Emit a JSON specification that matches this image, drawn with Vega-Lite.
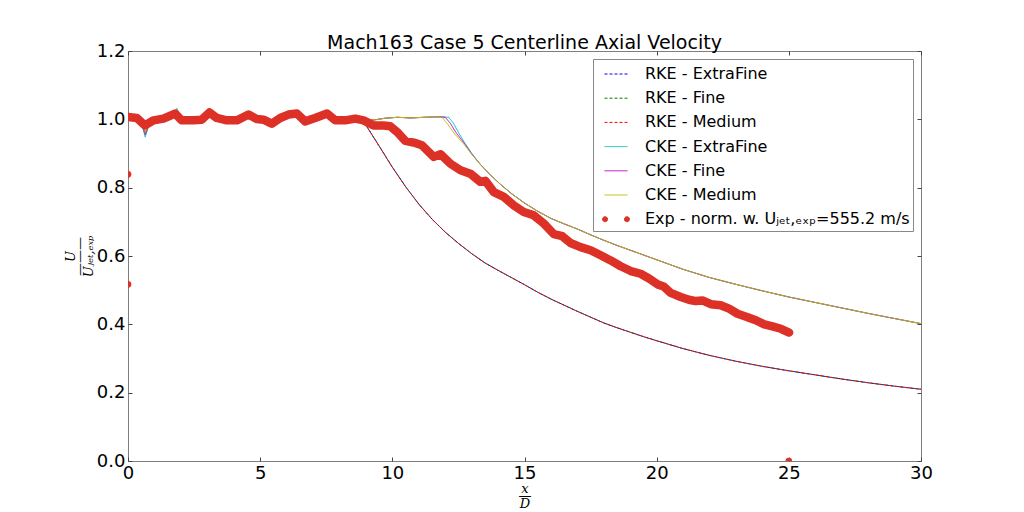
{
"$schema":"https://vega.github.io/schema/vega-lite/v6.json",
"width":793,"height":410,
"autosize":{"type":"none"},
"padding":{"left":128,"top":51,"right":103,"bottom":51},
"title":{"text":"Mach163 Case 5 Centerline Axial Velocity","font":"DejaVu Sans","fontSize":19,"fontWeight":"normal","color":"#000","anchor":"middle","offset":-11},
"config":{
 "font":"DejaVu Sans",
 "view":{"stroke":"#7f7f7f","strokeWidth":1},
 "axis":{"grid":false,"domain":false,"labelFont":"DejaVu Sans","labelFontSize":18,"labelColor":"#000","tickColor":"#444","tickSize":-4,"tickWidth":1,"labelPadding":7,"labelFlush":false,"labelOverlap":false,"titleColor":"#000"},
 "legend":{"orient":"top-right","offset":8,"fillColor":"#fff","strokeColor":"#888","padding":3,"cornerRadius":0,"symbolSize":529,"symbolStrokeWidth":1,"labelFont":"DejaVu Sans","labelFontSize":16,"labelColor":"#000","labelOffset":17,"symbolOffset":8,"rowPadding":4.2,"labelLimit":500}
},
"resolve":{"axis":{"x":"independent","y":"independent"}},
"datasets":{
"rxf":[
{"s":"RKE - ExtraFine","x":0,"y":1.005},{"s":"RKE - ExtraFine","x":0.3,"y":1.005},{"s":"RKE - ExtraFine","x":0.5,"y":0.995},{"s":"RKE - ExtraFine","x":0.65,"y":0.962},{"s":"RKE - ExtraFine","x":0.8,"y":0.985},{"s":"RKE - ExtraFine","x":1.0,"y":0.998},{"s":"RKE - ExtraFine","x":1.4,"y":1.0},{"s":"RKE - ExtraFine","x":1.7,"y":1.01},{"s":"RKE - ExtraFine","x":1.85,"y":1.025},{"s":"RKE - ExtraFine","x":2.0,"y":1.0},{"s":"RKE - ExtraFine","x":2.5,"y":0.997},{"s":"RKE - ExtraFine","x":2.9,"y":1.005},{"s":"RKE - ExtraFine","x":3.1,"y":1.015},{"s":"RKE - ExtraFine","x":3.4,"y":1.003},{"s":"RKE - ExtraFine","x":4.0,"y":0.998},{"s":"RKE - ExtraFine","x":4.5,"y":1.008},{"s":"RKE - ExtraFine","x":5.0,"y":1.0},{"s":"RKE - ExtraFine","x":5.4,"y":0.99},{"s":"RKE - ExtraFine","x":5.9,"y":1.004},{"s":"RKE - ExtraFine","x":6.4,"y":1.007},{"s":"RKE - ExtraFine","x":6.7,"y":0.995},{"s":"RKE - ExtraFine","x":7.0,"y":1.0},{"s":"RKE - ExtraFine","x":7.5,"y":1.008},{"s":"RKE - ExtraFine","x":7.9,"y":0.995},{"s":"RKE - ExtraFine","x":8.3,"y":0.997},{"s":"RKE - ExtraFine","x":8.8,"y":1.003},
{"s":"RKE - ExtraFine","x":9.0,"y":0.983},{"s":"RKE - ExtraFine","x":9.5,"y":0.922},{"s":"RKE - ExtraFine","x":10.0,"y":0.86},{"s":"RKE - ExtraFine","x":10.5,"y":0.803},{"s":"RKE - ExtraFine","x":11.0,"y":0.752},{"s":"RKE - ExtraFine","x":11.5,"y":0.708},{"s":"RKE - ExtraFine","x":12.0,"y":0.67},{"s":"RKE - ExtraFine","x":12.5,"y":0.637},{"s":"RKE - ExtraFine","x":13.0,"y":0.607},{"s":"RKE - ExtraFine","x":13.5,"y":0.58},{"s":"RKE - ExtraFine","x":14.0,"y":0.558},{"s":"RKE - ExtraFine","x":14.5,"y":0.537},{"s":"RKE - ExtraFine","x":15.0,"y":0.516},{"s":"RKE - ExtraFine","x":15.5,"y":0.494},{"s":"RKE - ExtraFine","x":16.0,"y":0.474},{"s":"RKE - ExtraFine","x":16.5,"y":0.456},{"s":"RKE - ExtraFine","x":17.0,"y":0.438},{"s":"RKE - ExtraFine","x":17.5,"y":0.421},{"s":"RKE - ExtraFine","x":18.0,"y":0.404},{"s":"RKE - ExtraFine","x":18.5,"y":0.39},{"s":"RKE - ExtraFine","x":19.0,"y":0.377},{"s":"RKE - ExtraFine","x":19.5,"y":0.364},{"s":"RKE - ExtraFine","x":20.0,"y":0.352},{"s":"RKE - ExtraFine","x":21.0,"y":0.329},{"s":"RKE - ExtraFine","x":22.0,"y":0.309},{"s":"RKE - ExtraFine","x":23.0,"y":0.292},{"s":"RKE - ExtraFine","x":24.0,"y":0.277},{"s":"RKE - ExtraFine","x":25.0,"y":0.264},{"s":"RKE - ExtraFine","x":26.0,"y":0.252},{"s":"RKE - ExtraFine","x":27.0,"y":0.24},{"s":"RKE - ExtraFine","x":28.0,"y":0.229},{"s":"RKE - ExtraFine","x":29.0,"y":0.219},{"s":"RKE - ExtraFine","x":30.0,"y":0.21}
],
"rf":[
{"s":"RKE - Fine","x":0,"y":1.005},{"s":"RKE - Fine","x":0.3,"y":1.005},{"s":"RKE - Fine","x":0.5,"y":0.995},{"s":"RKE - Fine","x":0.65,"y":0.962},{"s":"RKE - Fine","x":0.8,"y":0.985},{"s":"RKE - Fine","x":1.0,"y":0.998},{"s":"RKE - Fine","x":1.4,"y":1.0},{"s":"RKE - Fine","x":1.7,"y":1.01},{"s":"RKE - Fine","x":1.85,"y":1.025},{"s":"RKE - Fine","x":2.0,"y":1.0},{"s":"RKE - Fine","x":2.5,"y":0.997},{"s":"RKE - Fine","x":2.9,"y":1.005},{"s":"RKE - Fine","x":3.1,"y":1.015},{"s":"RKE - Fine","x":3.4,"y":1.003},{"s":"RKE - Fine","x":4.0,"y":0.998},{"s":"RKE - Fine","x":4.5,"y":1.008},{"s":"RKE - Fine","x":5.0,"y":1.0},{"s":"RKE - Fine","x":5.4,"y":0.99},{"s":"RKE - Fine","x":5.9,"y":1.004},{"s":"RKE - Fine","x":6.4,"y":1.007},{"s":"RKE - Fine","x":6.7,"y":0.995},{"s":"RKE - Fine","x":7.0,"y":1.0},{"s":"RKE - Fine","x":7.5,"y":1.008},{"s":"RKE - Fine","x":7.9,"y":0.995},{"s":"RKE - Fine","x":8.3,"y":0.997},{"s":"RKE - Fine","x":8.8,"y":1.003},
{"s":"RKE - Fine","x":9.0,"y":0.983},{"s":"RKE - Fine","x":9.5,"y":0.922},{"s":"RKE - Fine","x":10.0,"y":0.86},{"s":"RKE - Fine","x":10.5,"y":0.803},{"s":"RKE - Fine","x":11.0,"y":0.752},{"s":"RKE - Fine","x":11.5,"y":0.708},{"s":"RKE - Fine","x":12.0,"y":0.67},{"s":"RKE - Fine","x":12.5,"y":0.637},{"s":"RKE - Fine","x":13.0,"y":0.607},{"s":"RKE - Fine","x":13.5,"y":0.58},{"s":"RKE - Fine","x":14.0,"y":0.558},{"s":"RKE - Fine","x":14.5,"y":0.537},{"s":"RKE - Fine","x":15.0,"y":0.516},{"s":"RKE - Fine","x":15.5,"y":0.494},{"s":"RKE - Fine","x":16.0,"y":0.474},{"s":"RKE - Fine","x":16.5,"y":0.456},{"s":"RKE - Fine","x":17.0,"y":0.438},{"s":"RKE - Fine","x":17.5,"y":0.421},{"s":"RKE - Fine","x":18.0,"y":0.404},{"s":"RKE - Fine","x":18.5,"y":0.39},{"s":"RKE - Fine","x":19.0,"y":0.377},{"s":"RKE - Fine","x":19.5,"y":0.364},{"s":"RKE - Fine","x":20.0,"y":0.352},{"s":"RKE - Fine","x":21.0,"y":0.329},{"s":"RKE - Fine","x":22.0,"y":0.309},{"s":"RKE - Fine","x":23.0,"y":0.292},{"s":"RKE - Fine","x":24.0,"y":0.277},{"s":"RKE - Fine","x":25.0,"y":0.264},{"s":"RKE - Fine","x":26.0,"y":0.252},{"s":"RKE - Fine","x":27.0,"y":0.24},{"s":"RKE - Fine","x":28.0,"y":0.229},{"s":"RKE - Fine","x":29.0,"y":0.219},{"s":"RKE - Fine","x":30.0,"y":0.21}
],
"rm":[
{"s":"RKE - Medium","x":0,"y":1.005},{"s":"RKE - Medium","x":0.3,"y":1.005},{"s":"RKE - Medium","x":0.5,"y":0.995},{"s":"RKE - Medium","x":0.65,"y":0.962},{"s":"RKE - Medium","x":0.8,"y":0.985},{"s":"RKE - Medium","x":1.0,"y":0.998},{"s":"RKE - Medium","x":1.4,"y":1.0},{"s":"RKE - Medium","x":1.7,"y":1.01},{"s":"RKE - Medium","x":1.85,"y":1.025},{"s":"RKE - Medium","x":2.0,"y":1.0},{"s":"RKE - Medium","x":2.5,"y":0.997},{"s":"RKE - Medium","x":2.9,"y":1.005},{"s":"RKE - Medium","x":3.1,"y":1.015},{"s":"RKE - Medium","x":3.4,"y":1.003},{"s":"RKE - Medium","x":4.0,"y":0.998},{"s":"RKE - Medium","x":4.5,"y":1.008},{"s":"RKE - Medium","x":5.0,"y":1.0},{"s":"RKE - Medium","x":5.4,"y":0.99},{"s":"RKE - Medium","x":5.9,"y":1.004},{"s":"RKE - Medium","x":6.4,"y":1.007},{"s":"RKE - Medium","x":6.7,"y":0.995},{"s":"RKE - Medium","x":7.0,"y":1.0},{"s":"RKE - Medium","x":7.5,"y":1.008},{"s":"RKE - Medium","x":7.9,"y":0.995},{"s":"RKE - Medium","x":8.3,"y":0.997},{"s":"RKE - Medium","x":8.8,"y":1.003},
{"s":"RKE - Medium","x":9.0,"y":0.983},{"s":"RKE - Medium","x":9.5,"y":0.922},{"s":"RKE - Medium","x":10.0,"y":0.86},{"s":"RKE - Medium","x":10.5,"y":0.803},{"s":"RKE - Medium","x":11.0,"y":0.752},{"s":"RKE - Medium","x":11.5,"y":0.708},{"s":"RKE - Medium","x":12.0,"y":0.67},{"s":"RKE - Medium","x":12.5,"y":0.637},{"s":"RKE - Medium","x":13.0,"y":0.607},{"s":"RKE - Medium","x":13.5,"y":0.58},{"s":"RKE - Medium","x":14.0,"y":0.558},{"s":"RKE - Medium","x":14.5,"y":0.537},{"s":"RKE - Medium","x":15.0,"y":0.516},{"s":"RKE - Medium","x":15.5,"y":0.494},{"s":"RKE - Medium","x":16.0,"y":0.474},{"s":"RKE - Medium","x":16.5,"y":0.456},{"s":"RKE - Medium","x":17.0,"y":0.438},{"s":"RKE - Medium","x":17.5,"y":0.421},{"s":"RKE - Medium","x":18.0,"y":0.404},{"s":"RKE - Medium","x":18.5,"y":0.39},{"s":"RKE - Medium","x":19.0,"y":0.377},{"s":"RKE - Medium","x":19.5,"y":0.364},{"s":"RKE - Medium","x":20.0,"y":0.352},{"s":"RKE - Medium","x":21.0,"y":0.329},{"s":"RKE - Medium","x":22.0,"y":0.309},{"s":"RKE - Medium","x":23.0,"y":0.292},{"s":"RKE - Medium","x":24.0,"y":0.277},{"s":"RKE - Medium","x":25.0,"y":0.264},{"s":"RKE - Medium","x":26.0,"y":0.252},{"s":"RKE - Medium","x":27.0,"y":0.24},{"s":"RKE - Medium","x":28.0,"y":0.229},{"s":"RKE - Medium","x":29.0,"y":0.219},{"s":"RKE - Medium","x":30.0,"y":0.21}
],
"cxf":[
{"s":"CKE - ExtraFine","x":0,"y":1.005},{"s":"CKE - ExtraFine","x":0.3,"y":1.005},{"s":"CKE - ExtraFine","x":0.5,"y":0.993},{"s":"CKE - ExtraFine","x":0.65,"y":0.948},{"s":"CKE - ExtraFine","x":0.8,"y":0.985},{"s":"CKE - ExtraFine","x":1.0,"y":0.998},{"s":"CKE - ExtraFine","x":1.4,"y":1.0},{"s":"CKE - ExtraFine","x":1.7,"y":1.012},{"s":"CKE - ExtraFine","x":1.85,"y":1.032},{"s":"CKE - ExtraFine","x":2.0,"y":1.0},{"s":"CKE - ExtraFine","x":2.5,"y":0.997},{"s":"CKE - ExtraFine","x":2.9,"y":1.005},{"s":"CKE - ExtraFine","x":3.1,"y":1.015},{"s":"CKE - ExtraFine","x":3.4,"y":1.003},{"s":"CKE - ExtraFine","x":4.0,"y":0.998},{"s":"CKE - ExtraFine","x":4.5,"y":1.008},{"s":"CKE - ExtraFine","x":5.0,"y":1.0},{"s":"CKE - ExtraFine","x":5.4,"y":0.99},{"s":"CKE - ExtraFine","x":5.9,"y":1.004},{"s":"CKE - ExtraFine","x":6.4,"y":1.007},{"s":"CKE - ExtraFine","x":6.7,"y":0.995},{"s":"CKE - ExtraFine","x":7.0,"y":1.0},{"s":"CKE - ExtraFine","x":7.5,"y":1.008},{"s":"CKE - ExtraFine","x":7.9,"y":0.995},{"s":"CKE - ExtraFine","x":8.3,"y":0.997},{"s":"CKE - ExtraFine","x":8.8,"y":1.003},
{"s":"CKE - ExtraFine","x":9.0,"y":1.001},{"s":"CKE - ExtraFine","x":9.3,"y":0.998},{"s":"CKE - ExtraFine","x":9.7,"y":1.003},{"s":"CKE - ExtraFine","x":10.2,"y":1.006},{"s":"CKE - ExtraFine","x":10.7,"y":1.004},{"s":"CKE - ExtraFine","x":11.2,"y":1.006},{"s":"CKE - ExtraFine","x":11.6,"y":1.007},{"s":"CKE - ExtraFine","x":11.88,"y":1.007},{"s":"CKE - ExtraFine","x":12.13,"y":1.006},{"s":"CKE - ExtraFine","x":12.3,"y":0.99},{"s":"CKE - ExtraFine","x":12.5,"y":0.962},{"s":"CKE - ExtraFine","x":12.7,"y":0.936},{"s":"CKE - ExtraFine","x":13.0,"y":0.901},
{"s":"CKE - ExtraFine","x":13.33,"y":0.868},{"s":"CKE - ExtraFine","x":13.7,"y":0.838},{"s":"CKE - ExtraFine","x":14.1,"y":0.809},{"s":"CKE - ExtraFine","x":14.5,"y":0.783},{"s":"CKE - ExtraFine","x":15.0,"y":0.755},{"s":"CKE - ExtraFine","x":15.5,"y":0.731},{"s":"CKE - ExtraFine","x":16.0,"y":0.71},{"s":"CKE - ExtraFine","x":16.5,"y":0.694},{"s":"CKE - ExtraFine","x":17.0,"y":0.679},{"s":"CKE - ExtraFine","x":17.5,"y":0.662},{"s":"CKE - ExtraFine","x":18.0,"y":0.646},{"s":"CKE - ExtraFine","x":18.5,"y":0.631},{"s":"CKE - ExtraFine","x":19.0,"y":0.617},{"s":"CKE - ExtraFine","x":19.5,"y":0.603},{"s":"CKE - ExtraFine","x":20.0,"y":0.589},{"s":"CKE - ExtraFine","x":21.0,"y":0.561},{"s":"CKE - ExtraFine","x":22.0,"y":0.537},{"s":"CKE - ExtraFine","x":23.0,"y":0.517},{"s":"CKE - ExtraFine","x":24.0,"y":0.498},{"s":"CKE - ExtraFine","x":25.0,"y":0.48},{"s":"CKE - ExtraFine","x":26.0,"y":0.464},{"s":"CKE - ExtraFine","x":27.0,"y":0.448},{"s":"CKE - ExtraFine","x":28.0,"y":0.432},{"s":"CKE - ExtraFine","x":29.0,"y":0.417},{"s":"CKE - ExtraFine","x":30.0,"y":0.402}
],
"cf":[
{"s":"CKE - Fine","x":0,"y":1.005},{"s":"CKE - Fine","x":0.3,"y":1.005},{"s":"CKE - Fine","x":0.5,"y":0.994},{"s":"CKE - Fine","x":0.65,"y":0.955},{"s":"CKE - Fine","x":0.8,"y":0.985},{"s":"CKE - Fine","x":1.0,"y":0.998},{"s":"CKE - Fine","x":1.4,"y":1.0},{"s":"CKE - Fine","x":1.7,"y":1.01},{"s":"CKE - Fine","x":1.85,"y":1.027},{"s":"CKE - Fine","x":2.0,"y":1.0},{"s":"CKE - Fine","x":2.5,"y":0.997},{"s":"CKE - Fine","x":2.9,"y":1.005},{"s":"CKE - Fine","x":3.1,"y":1.015},{"s":"CKE - Fine","x":3.4,"y":1.003},{"s":"CKE - Fine","x":4.0,"y":0.998},{"s":"CKE - Fine","x":4.5,"y":1.008},{"s":"CKE - Fine","x":5.0,"y":1.0},{"s":"CKE - Fine","x":5.4,"y":0.99},{"s":"CKE - Fine","x":5.9,"y":1.004},{"s":"CKE - Fine","x":6.4,"y":1.007},{"s":"CKE - Fine","x":6.7,"y":0.995},{"s":"CKE - Fine","x":7.0,"y":1.0},{"s":"CKE - Fine","x":7.5,"y":1.008},{"s":"CKE - Fine","x":7.9,"y":0.995},{"s":"CKE - Fine","x":8.3,"y":0.997},{"s":"CKE - Fine","x":8.8,"y":1.003},
{"s":"CKE - Fine","x":9.0,"y":1.001},{"s":"CKE - Fine","x":9.3,"y":0.998},{"s":"CKE - Fine","x":9.7,"y":1.003},{"s":"CKE - Fine","x":10.2,"y":1.006},{"s":"CKE - Fine","x":10.7,"y":1.004},{"s":"CKE - Fine","x":11.2,"y":1.006},{"s":"CKE - Fine","x":11.6,"y":1.007},{"s":"CKE - Fine","x":11.88,"y":1.007},{"s":"CKE - Fine","x":12.0,"y":1.006},{"s":"CKE - Fine","x":12.2,"y":0.988},{"s":"CKE - Fine","x":12.4,"y":0.962},{"s":"CKE - Fine","x":12.7,"y":0.932},{"s":"CKE - Fine","x":13.0,"y":0.899},
{"s":"CKE - Fine","x":13.33,"y":0.868},{"s":"CKE - Fine","x":13.7,"y":0.838},{"s":"CKE - Fine","x":14.1,"y":0.809},{"s":"CKE - Fine","x":14.5,"y":0.783},{"s":"CKE - Fine","x":15.0,"y":0.755},{"s":"CKE - Fine","x":15.5,"y":0.731},{"s":"CKE - Fine","x":16.0,"y":0.71},{"s":"CKE - Fine","x":16.5,"y":0.694},{"s":"CKE - Fine","x":17.0,"y":0.679},{"s":"CKE - Fine","x":17.5,"y":0.662},{"s":"CKE - Fine","x":18.0,"y":0.646},{"s":"CKE - Fine","x":18.5,"y":0.631},{"s":"CKE - Fine","x":19.0,"y":0.617},{"s":"CKE - Fine","x":19.5,"y":0.603},{"s":"CKE - Fine","x":20.0,"y":0.589},{"s":"CKE - Fine","x":21.0,"y":0.561},{"s":"CKE - Fine","x":22.0,"y":0.537},{"s":"CKE - Fine","x":23.0,"y":0.517},{"s":"CKE - Fine","x":24.0,"y":0.498},{"s":"CKE - Fine","x":25.0,"y":0.48},{"s":"CKE - Fine","x":26.0,"y":0.464},{"s":"CKE - Fine","x":27.0,"y":0.448},{"s":"CKE - Fine","x":28.0,"y":0.432},{"s":"CKE - Fine","x":29.0,"y":0.417},{"s":"CKE - Fine","x":30.0,"y":0.402}
],
"cm":[
{"s":"CKE - Medium","x":0,"y":1.005},{"s":"CKE - Medium","x":0.3,"y":1.005},{"s":"CKE - Medium","x":0.5,"y":0.995},{"s":"CKE - Medium","x":0.65,"y":0.962},{"s":"CKE - Medium","x":0.8,"y":0.985},{"s":"CKE - Medium","x":1.0,"y":0.998},{"s":"CKE - Medium","x":1.4,"y":1.0},{"s":"CKE - Medium","x":1.7,"y":1.01},{"s":"CKE - Medium","x":1.85,"y":1.024},{"s":"CKE - Medium","x":2.0,"y":1.0},{"s":"CKE - Medium","x":2.5,"y":0.997},{"s":"CKE - Medium","x":2.9,"y":1.005},{"s":"CKE - Medium","x":3.1,"y":1.015},{"s":"CKE - Medium","x":3.4,"y":1.003},{"s":"CKE - Medium","x":4.0,"y":0.998},{"s":"CKE - Medium","x":4.5,"y":1.008},{"s":"CKE - Medium","x":5.0,"y":1.0},{"s":"CKE - Medium","x":5.4,"y":0.99},{"s":"CKE - Medium","x":5.9,"y":1.004},{"s":"CKE - Medium","x":6.4,"y":1.007},{"s":"CKE - Medium","x":6.7,"y":0.995},{"s":"CKE - Medium","x":7.0,"y":1.0},{"s":"CKE - Medium","x":7.5,"y":1.008},{"s":"CKE - Medium","x":7.9,"y":0.995},{"s":"CKE - Medium","x":8.3,"y":0.997},{"s":"CKE - Medium","x":8.8,"y":1.003},
{"s":"CKE - Medium","x":9.0,"y":1.001},{"s":"CKE - Medium","x":9.3,"y":0.998},{"s":"CKE - Medium","x":9.7,"y":1.003},{"s":"CKE - Medium","x":10.2,"y":1.006},{"s":"CKE - Medium","x":10.7,"y":1.004},{"s":"CKE - Medium","x":11.2,"y":1.006},{"s":"CKE - Medium","x":11.6,"y":1.007},{"s":"CKE - Medium","x":11.88,"y":1.006},{"s":"CKE - Medium","x":12.1,"y":0.985},{"s":"CKE - Medium","x":12.3,"y":0.963},{"s":"CKE - Medium","x":12.5,"y":0.945},{"s":"CKE - Medium","x":12.7,"y":0.928},{"s":"CKE - Medium","x":13.0,"y":0.898},
{"s":"CKE - Medium","x":13.33,"y":0.868},{"s":"CKE - Medium","x":13.7,"y":0.838},{"s":"CKE - Medium","x":14.1,"y":0.809},{"s":"CKE - Medium","x":14.5,"y":0.783},{"s":"CKE - Medium","x":15.0,"y":0.755},{"s":"CKE - Medium","x":15.5,"y":0.731},{"s":"CKE - Medium","x":16.0,"y":0.71},{"s":"CKE - Medium","x":16.5,"y":0.694},{"s":"CKE - Medium","x":17.0,"y":0.679},{"s":"CKE - Medium","x":17.5,"y":0.662},{"s":"CKE - Medium","x":18.0,"y":0.646},{"s":"CKE - Medium","x":18.5,"y":0.631},{"s":"CKE - Medium","x":19.0,"y":0.617},{"s":"CKE - Medium","x":19.5,"y":0.603},{"s":"CKE - Medium","x":20.0,"y":0.589},{"s":"CKE - Medium","x":21.0,"y":0.561},{"s":"CKE - Medium","x":22.0,"y":0.537},{"s":"CKE - Medium","x":23.0,"y":0.517},{"s":"CKE - Medium","x":24.0,"y":0.498},{"s":"CKE - Medium","x":25.0,"y":0.48},{"s":"CKE - Medium","x":26.0,"y":0.464},{"s":"CKE - Medium","x":27.0,"y":0.448},{"s":"CKE - Medium","x":28.0,"y":0.432},{"s":"CKE - Medium","x":29.0,"y":0.417},{"s":"CKE - Medium","x":30.0,"y":0.402}
],
"exp":[
{"s":"Exp - norm. w. Uⱼₑₜ,ₑₓₚ=555.2 m/s","x":0.0,"y":1.007},{"s":"Exp - norm. w. Uⱼₑₜ,ₑₓₚ=555.2 m/s","x":0.33,"y":1.004},{"s":"Exp - norm. w. Uⱼₑₜ,ₑₓₚ=555.2 m/s","x":0.64,"y":0.982},{"s":"Exp - norm. w. Uⱼₑₜ,ₑₓₚ=555.2 m/s","x":0.96,"y":0.997},{"s":"Exp - norm. w. Uⱼₑₜ,ₑₓₚ=555.2 m/s","x":1.34,"y":1.002},{"s":"Exp - norm. w. Uⱼₑₜ,ₑₓₚ=555.2 m/s","x":1.78,"y":1.017},{"s":"Exp - norm. w. Uⱼₑₜ,ₑₓₚ=555.2 m/s","x":2.03,"y":0.997},{"s":"Exp - norm. w. Uⱼₑₜ,ₑₓₚ=555.2 m/s","x":2.47,"y":0.997},{"s":"Exp - norm. w. Uⱼₑₜ,ₑₓₚ=555.2 m/s","x":2.79,"y":0.999},{"s":"Exp - norm. w. Uⱼₑₜ,ₑₓₚ=555.2 m/s","x":3.08,"y":1.02},{"s":"Exp - norm. w. Uⱼₑₜ,ₑₓₚ=555.2 m/s","x":3.36,"y":1.004},{"s":"Exp - norm. w. Uⱼₑₜ,ₑₓₚ=555.2 m/s","x":3.74,"y":0.997},{"s":"Exp - norm. w. Uⱼₑₜ,ₑₓₚ=555.2 m/s","x":4.12,"y":0.997},{"s":"Exp - norm. w. Uⱼₑₜ,ₑₓₚ=555.2 m/s","x":4.56,"y":1.014},{"s":"Exp - norm. w. Uⱼₑₜ,ₑₓₚ=555.2 m/s","x":4.87,"y":1.001},{"s":"Exp - norm. w. Uⱼₑₜ,ₑₓₚ=555.2 m/s","x":5.13,"y":0.999},{"s":"Exp - norm. w. Uⱼₑₜ,ₑₓₚ=555.2 m/s","x":5.44,"y":0.987},{"s":"Exp - norm. w. Uⱼₑₜ,ₑₓₚ=555.2 m/s","x":5.76,"y":1.004},{"s":"Exp - norm. w. Uⱼₑₜ,ₑₓₚ=555.2 m/s","x":6.07,"y":1.014},{"s":"Exp - norm. w. Uⱼₑₜ,ₑₓₚ=555.2 m/s","x":6.39,"y":1.017},{"s":"Exp - norm. w. Uⱼₑₜ,ₑₓₚ=555.2 m/s","x":6.7,"y":0.994},{"s":"Exp - norm. w. Uⱼₑₜ,ₑₓₚ=555.2 m/s","x":7.08,"y":1.004},{"s":"Exp - norm. w. Uⱼₑₜ,ₑₓₚ=555.2 m/s","x":7.53,"y":1.017},{"s":"Exp - norm. w. Uⱼₑₜ,ₑₓₚ=555.2 m/s","x":7.84,"y":0.997},{"s":"Exp - norm. w. Uⱼₑₜ,ₑₓₚ=555.2 m/s","x":8.22,"y":0.997},{"s":"Exp - norm. w. Uⱼₑₜ,ₑₓₚ=555.2 m/s","x":8.6,"y":1.002},{"s":"Exp - norm. w. Uⱼₑₜ,ₑₓₚ=555.2 m/s","x":8.91,"y":0.997},{"s":"Exp - norm. w. Uⱼₑₜ,ₑₓₚ=555.2 m/s","x":9.29,"y":0.982},{"s":"Exp - norm. w. Uⱼₑₜ,ₑₓₚ=555.2 m/s","x":9.67,"y":0.982},{"s":"Exp - norm. w. Uⱼₑₜ,ₑₓₚ=555.2 m/s","x":9.92,"y":0.98},{"s":"Exp - norm. w. Uⱼₑₜ,ₑₓₚ=555.2 m/s","x":10.18,"y":0.963},{"s":"Exp - norm. w. Uⱼₑₜ,ₑₓₚ=555.2 m/s","x":10.49,"y":0.937},{"s":"Exp - norm. w. Uⱼₑₜ,ₑₓₚ=555.2 m/s","x":10.81,"y":0.932},{"s":"Exp - norm. w. Uⱼₑₜ,ₑₓₚ=555.2 m/s","x":11.12,"y":0.924},{"s":"Exp - norm. w. Uⱼₑₜ,ₑₓₚ=555.2 m/s","x":11.57,"y":0.89},{"s":"Exp - norm. w. Uⱼₑₜ,ₑₓₚ=555.2 m/s","x":11.82,"y":0.898},{"s":"Exp - norm. w. Uⱼₑₜ,ₑₓₚ=555.2 m/s","x":12.2,"y":0.87},{"s":"Exp - norm. w. Uⱼₑₜ,ₑₓₚ=555.2 m/s","x":12.58,"y":0.851},{"s":"Exp - norm. w. Uⱼₑₜ,ₑₓₚ=555.2 m/s","x":12.95,"y":0.841},{"s":"Exp - norm. w. Uⱼₑₜ,ₑₓₚ=555.2 m/s","x":13.33,"y":0.817},{"s":"Exp - norm. w. Uⱼₑₜ,ₑₓₚ=555.2 m/s","x":13.52,"y":0.82},{"s":"Exp - norm. w. Uⱼₑₜ,ₑₓₚ=555.2 m/s","x":13.84,"y":0.787},{"s":"Exp - norm. w. Uⱼₑₜ,ₑₓₚ=555.2 m/s","x":14.22,"y":0.773},{"s":"Exp - norm. w. Uⱼₑₜ,ₑₓₚ=555.2 m/s","x":14.6,"y":0.748},{"s":"Exp - norm. w. Uⱼₑₜ,ₑₓₚ=555.2 m/s","x":14.97,"y":0.729},{"s":"Exp - norm. w. Uⱼₑₜ,ₑₓₚ=555.2 m/s","x":15.35,"y":0.719},{"s":"Exp - norm. w. Uⱼₑₜ,ₑₓₚ=555.2 m/s","x":15.73,"y":0.695},{"s":"Exp - norm. w. Uⱼₑₜ,ₑₓₚ=555.2 m/s","x":16.11,"y":0.664},{"s":"Exp - norm. w. Uⱼₑₜ,ₑₓₚ=555.2 m/s","x":16.43,"y":0.658},{"s":"Exp - norm. w. Uⱼₑₜ,ₑₓₚ=555.2 m/s","x":16.74,"y":0.638},{"s":"Exp - norm. w. Uⱼₑₜ,ₑₓₚ=555.2 m/s","x":17.12,"y":0.626},{"s":"Exp - norm. w. Uⱼₑₜ,ₑₓₚ=555.2 m/s","x":17.5,"y":0.617},{"s":"Exp - norm. w. Uⱼₑₜ,ₑₓₚ=555.2 m/s","x":17.88,"y":0.602},{"s":"Exp - norm. w. Uⱼₑₜ,ₑₓₚ=555.2 m/s","x":18.26,"y":0.587},{"s":"Exp - norm. w. Uⱼₑₜ,ₑₓₚ=555.2 m/s","x":18.64,"y":0.57},{"s":"Exp - norm. w. Uⱼₑₜ,ₑₓₚ=555.2 m/s","x":19.02,"y":0.556},{"s":"Exp - norm. w. Uⱼₑₜ,ₑₓₚ=555.2 m/s","x":19.39,"y":0.548},{"s":"Exp - norm. w. Uⱼₑₜ,ₑₓₚ=555.2 m/s","x":19.71,"y":0.534},{"s":"Exp - norm. w. Uⱼₑₜ,ₑₓₚ=555.2 m/s","x":20.03,"y":0.517},{"s":"Exp - norm. w. Uⱼₑₜ,ₑₓₚ=555.2 m/s","x":20.26,"y":0.511},{"s":"Exp - norm. w. Uⱼₑₜ,ₑₓₚ=555.2 m/s","x":20.53,"y":0.492},{"s":"Exp - norm. w. Uⱼₑₜ,ₑₓₚ=555.2 m/s","x":20.91,"y":0.48},{"s":"Exp - norm. w. Uⱼₑₜ,ₑₓₚ=555.2 m/s","x":21.22,"y":0.472},{"s":"Exp - norm. w. Uⱼₑₜ,ₑₓₚ=555.2 m/s","x":21.48,"y":0.468},{"s":"Exp - norm. w. Uⱼₑₜ,ₑₓₚ=555.2 m/s","x":21.73,"y":0.47},{"s":"Exp - norm. w. Uⱼₑₜ,ₑₓₚ=555.2 m/s","x":22.05,"y":0.459},{"s":"Exp - norm. w. Uⱼₑₜ,ₑₓₚ=555.2 m/s","x":22.42,"y":0.456},{"s":"Exp - norm. w. Uⱼₑₜ,ₑₓₚ=555.2 m/s","x":22.74,"y":0.446},{"s":"Exp - norm. w. Uⱼₑₜ,ₑₓₚ=555.2 m/s","x":23.06,"y":0.431},{"s":"Exp - norm. w. Uⱼₑₜ,ₑₓₚ=555.2 m/s","x":23.44,"y":0.421},{"s":"Exp - norm. w. Uⱼₑₜ,ₑₓₚ=555.2 m/s","x":23.75,"y":0.412},{"s":"Exp - norm. w. Uⱼₑₜ,ₑₓₚ=555.2 m/s","x":24.07,"y":0.4},{"s":"Exp - norm. w. Uⱼₑₜ,ₑₓₚ=555.2 m/s","x":24.38,"y":0.394},{"s":"Exp - norm. w. Uⱼₑₜ,ₑₓₚ=555.2 m/s","x":24.7,"y":0.387},{"s":"Exp - norm. w. Uⱼₑₜ,ₑₓₚ=555.2 m/s","x":25.01,"y":0.376}
],
"out":[
{"s":"Exp - norm. w. Uⱼₑₜ,ₑₓₚ=555.2 m/s","x":0,"y":0.839},{"s":"Exp - norm. w. Uⱼₑₜ,ₑₓₚ=555.2 m/s","x":0,"y":0.517},{"s":"Exp - norm. w. Uⱼₑₜ,ₑₓₚ=555.2 m/s","x":25.0,"y":0.0}
]
},
"encoding":{
 "x":{"field":"x","type":"quantitative","scale":{"domain":[0,30],"nice":false,"zero":false},"axis":null},
 "y":{"field":"y","type":"quantitative","scale":{"domain":[0,1.2],"nice":false,"zero":false},"axis":null},
 "color":{"field":"s","type":"nominal",
  "scale":{"domain":["RKE - ExtraFine","RKE - Fine","RKE - Medium","CKE - ExtraFine","CKE - Fine","CKE - Medium","Exp - norm. w. Uⱼₑₜ,ₑₓₚ=555.2 m/s"],"range":["#0000ff","#008000","#ff0000","#00bfbf","#bf00bf","#bfbf00","#dd3026"]},
  "legend":{"title":null,"encode":{"symbols":{"update":{
   "shape":{"signal":"indexof(datum.value,'Exp')===0 ? 'M-1.17,0A0.22,0.22,0,1,0,-0.73,0A0.22,0.22,0,1,0,-1.17,0ZM0.73,0A0.22,0.22,0,1,0,1.17,0A0.22,0.22,0,1,0,0.73,0Z' : 'stroke'"},
   "fill":{"signal":"indexof(datum.value,'Exp')===0 ? '#dd3026' : 'transparent'"},
   "stroke":{"signal":"scale('color', datum.value)"},
   "strokeWidth":{"value":1},
   "opacity":{"value":1}}}}}}
},
"layer":[
 {"data":{"name":"rxf"},"mark":{"type":"line","strokeWidth":1,"strokeDashOffset":0,"clip":true},
  "encoding":{
   "x":{"field":"x","type":"quantitative","scale":{"domain":[0,30],"nice":false,"zero":false},
    "axis":{"orient":"bottom","values":[0,5,10,15,20,25,30],"format":"d","title":["x","—","D"],"titleFont":"DejaVu Serif","titleFontStyle":"italic","titleFontWeight":"normal","titleFontSize":13,"titleLineHeight":7.5,"titlePadding":0}},
   "y":{"field":"y","type":"quantitative","scale":{"domain":[0,1.2],"nice":false,"zero":false},
    "axis":{"orient":"left","values":[0,0.2,0.4,0.6,0.8,1.0,1.2],"format":".1f","title":["U","———","Uⱼₑₜ,ₑₓₚ"],"titleFont":"DejaVu Serif","titleFontStyle":"italic","titleFontWeight":"normal","titleFontSize":13,"titleLineHeight":9,"titlePadding":1}},
   "strokeDash":{"field":"s","type":"nominal","scale":{"domain":["RKE - ExtraFine","RKE - Fine","RKE - Medium","CKE - ExtraFine","CKE - Fine","CKE - Medium","Exp - norm. w. Uⱼₑₜ,ₑₓₚ=555.2 m/s"],"range":[[3,2],[3,2],[3,2],[1,0],[1,0],[1,0],[1,0]]},"legend":{"title":null}}}},
 {"data":{"name":"rf"},"mark":{"type":"line","strokeWidth":1,"strokeDashOffset":1.5,"clip":true},
  "encoding":{"strokeDash":{"field":"s","type":"nominal","legend":{"title":null}}}},
 {"data":{"name":"rm"},"mark":{"type":"line","strokeWidth":1,"strokeDashOffset":2.5,"clip":true},
  "encoding":{"strokeDash":{"field":"s","type":"nominal","legend":{"title":null}}}},
 {"data":{"name":"cxf"},"mark":{"type":"line","strokeWidth":1,"clip":true},
  "encoding":{"strokeDash":{"field":"s","type":"nominal","legend":{"title":null}}}},
 {"data":{"name":"cf"},"mark":{"type":"line","strokeWidth":1,"clip":true},
  "encoding":{"strokeDash":{"field":"s","type":"nominal","legend":{"title":null}}}},
 {"data":{"name":"cm"},"mark":{"type":"line","strokeWidth":1,"clip":true},
  "encoding":{"strokeDash":{"field":"s","type":"nominal","legend":{"title":null}}}},
 {"data":{"name":"exp"},"mark":{"type":"line","strokeWidth":8.5,"strokeCap":"round","strokeJoin":"round","clip":true}},
 {"data":{"name":"out"},"mark":{"type":"point","filled":true,"size":45,"opacity":1,"clip":true},
  "encoding":{
   "x":{"field":"x","type":"quantitative","scale":{"domain":[0,30],"nice":false,"zero":false},
    "axis":{"orient":"top","values":[0,5,10,15,20,25,30],"labels":false,"title":null}},
   "y":{"field":"y","type":"quantitative","scale":{"domain":[0,1.2],"nice":false,"zero":false},
    "axis":{"orient":"right","values":[0,0.2,0.4,0.6,0.8,1.0,1.2],"labels":false,"title":null}}}}
]
}
